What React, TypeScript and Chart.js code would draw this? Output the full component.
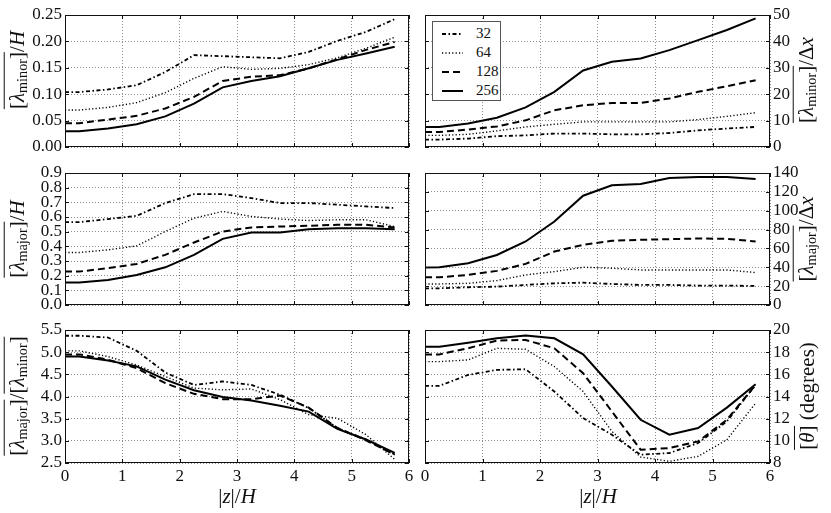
import React, { useEffect, useRef } from 'react';
import { Chart, registerables } from 'chart.js';

Chart.register(...registerables);

// --- data ---
const Z = [0, 0.25, 0.75, 1.25, 1.75, 2.25, 2.75, 3.25, 3.75, 4.25, 4.75, 5.25, 5.75];
const RESOLUTIONS = ['32', '64', '128', '256'];
const X_TICKS = [0, 1, 2, 3, 4, 5, 6];

// [lambda_minor]/H
const minorH32 = [0.104, 0.104, 0.109, 0.117, 0.142, 0.174, 0.172, 0.170, 0.168, 0.180, 0.201, 0.218, 0.242];
const minorH64 = [0.070, 0.070, 0.075, 0.084, 0.103, 0.130, 0.152, 0.147, 0.149, 0.156, 0.169, 0.187, 0.208];
const minorH128 = [0.045, 0.045, 0.052, 0.059, 0.073, 0.095, 0.125, 0.133, 0.136, 0.149, 0.166, 0.184, 0.199];
const minorH256 = [0.030, 0.030, 0.035, 0.043, 0.058, 0.082, 0.113, 0.125, 0.134, 0.149, 0.165, 0.177, 0.190];

// [lambda_minor]/dx
const minorDx32 = [2.8, 2.8, 3.2, 4.1, 4.4, 5.1, 5.1, 4.8, 4.8, 5.3, 6.3, 7.0, 7.6];
const minorDx64 = [4.4, 4.4, 4.8, 6.1, 7.6, 8.6, 9.5, 9.5, 9.5, 9.5, 10.4, 11.6, 13.0];
const minorDx128 = [5.7, 5.7, 6.6, 7.8, 10.1, 13.9, 15.8, 16.7, 16.7, 18.4, 20.9, 23.0, 25.3];
const minorDx256 = [7.6, 7.6, 8.9, 11.1, 15.0, 20.9, 29.0, 32.3, 33.5, 36.7, 40.5, 44.3, 48.7];

// [lambda_major]/H
const majorH32 = [0.565, 0.565, 0.586, 0.608, 0.695, 0.756, 0.756, 0.729, 0.695, 0.695, 0.684, 0.672, 0.661];
const majorH64 = [0.358, 0.358, 0.376, 0.403, 0.501, 0.592, 0.638, 0.604, 0.586, 0.576, 0.581, 0.581, 0.535];
const majorH128 = [0.228, 0.228, 0.251, 0.280, 0.342, 0.426, 0.501, 0.529, 0.535, 0.540, 0.547, 0.547, 0.529];
const majorH256 = [0.153, 0.153, 0.171, 0.205, 0.257, 0.342, 0.451, 0.494, 0.494, 0.517, 0.524, 0.524, 0.517];

// [lambda_major]/dx
const majorDx32 = [17.7, 17.7, 18.8, 19.5, 21.3, 23.0, 23.7, 22.3, 21.3, 21.3, 20.6, 20.6, 20.2];
const majorDx64 = [22.3, 22.3, 23.0, 25.9, 31.9, 35.4, 40.0, 39.0, 37.2, 37.2, 37.2, 37.2, 34.4];
const majorDx128 = [29.4, 29.4, 31.9, 36.2, 43.6, 56.7, 63.8, 68.1, 69.1, 69.8, 70.5, 70.2, 67.4];
const majorDx256 = [39.7, 40.0, 44.3, 53.0, 67.4, 88.6, 115.9, 127.0, 128.3, 134.7, 135.8, 135.8, 133.6];

// [lambda_major]/[lambda_minor]
const ratio32 = [5.37, 5.37, 5.33, 5.03, 4.54, 4.26, 4.34, 4.26, 4.04, 3.74, 3.29, 3.03, 2.69];
const ratio64 = [5.03, 5.03, 4.90, 4.71, 4.45, 4.19, 4.15, 4.17, 3.93, 3.59, 3.51, 3.14, 2.58];
const ratio128 = [4.95, 4.95, 4.83, 4.64, 4.30, 4.06, 3.94, 3.94, 4.02, 3.75, 3.29, 3.01, 2.69];
const ratio256 = [4.90, 4.90, 4.81, 4.68, 4.38, 4.14, 3.99, 3.91, 3.79, 3.66, 3.27, 3.03, 2.73];

// [theta] (degrees)
const theta32 = [14.96, 14.96, 15.95, 16.4, 16.46, 14.45, 12.05, 10.55, 8.75, 8.9, 9.8, 11.75, 15.05];
const theta64 = [17.15, 17.15, 17.3, 18.35, 18.26, 16.7, 14.45, 10.85, 8.54, 8.15, 8.6, 10.1, 13.4];
const theta128 = [17.8, 17.8, 18.35, 19.05, 19.1, 18.35, 16.1, 12.65, 9.2, 9.35, 9.95, 11.9, 15.05];
const theta256 = [18.5, 18.5, 18.86, 19.25, 19.5, 19.25, 17.8, 14.9, 11.9, 10.55, 11.15, 13.0, 15.1];

// --- styles ---
const FONT = 'Liberation Serif';
const GRID = 'rgba(0,0,0,0.45)';
const LINES = [
  { dash: [4, 2.5, 1.5, 2.5], width: 1.8 },
  { dash: [1.2, 2.2], width: 1.4 },
  { dash: [7, 4], width: 2 },
  { dash: [], width: 2 },
];

// frame on all four sides + small inward tick marks
const framePlugin = {
  id: 'frame',
  afterDatasetsDraw(chart: any) {
    const { ctx, chartArea: a, scales } = chart;
    ctx.save();
    ctx.strokeStyle = '#111';
    ctx.lineWidth = 1;
    ctx.setLineDash([]);
    ctx.strokeRect(a.left + 0.5, a.top + 0.5, a.right - a.left - 1, a.bottom - a.top - 1);
    ctx.beginPath();
    scales.x.ticks.forEach((t: any) => {
      const px = Math.round(scales.x.getPixelForValue(t.value)) + 0.5;
      ctx.moveTo(px, a.bottom); ctx.lineTo(px, a.bottom - 4);
      ctx.moveTo(px, a.top); ctx.lineTo(px, a.top + 4);
    });
    scales.y.ticks.forEach((t: any) => {
      const py = Math.round(scales.y.getPixelForValue(t.value)) + 0.5;
      ctx.moveTo(a.left, py); ctx.lineTo(a.left + 4, py);
      ctx.moveTo(a.right, py); ctx.lineTo(a.right - 4, py);
    });
    ctx.stroke();
    ctx.restore();
  },
};

type PanelProps = {
  left: number; top: number; width: number; height: number;
  pad: { top: number; right: number; bottom: number; left: number };
  side: 'left' | 'right';
  yWidth: number; xHeight: number;
  series: number[][];
  yMin: number; yMax: number; yStep: number; yDigits: number;
  showX: boolean;
};

function Panel(p: PanelProps) {
  const ref = useRef<HTMLCanvasElement>(null);

  useEffect(() => {
    const ctx = ref.current?.getContext('2d');
    if (!ctx) return;
    const chart = new Chart(ctx, {
      type: 'line',
      data: {
        datasets: p.series.map((s, i) => ({
          label: RESOLUTIONS[i],
          data: s.map((v, j) => ({ x: Z[j], y: v })),
          borderColor: '#000',
          borderWidth: LINES[i].width,
          borderDash: LINES[i].dash,
          pointRadius: 0,
          tension: 0,
          fill: false,
        })),
      },
      options: {
        animation: false,
        responsive: false,
        events: [],
        layout: { padding: p.pad },
        plugins: { legend: { display: false }, tooltip: { enabled: false } },
        scales: {
          x: {
            type: 'linear', min: 0, max: 6,
            afterBuildTicks: (s: any) => { s.ticks = X_TICKS.map((v) => ({ value: v })); },
            ticks: { display: p.showX, z: 1, autoSkip: false, padding: 3, color: '#111', maxRotation: 0, font: { family: FONT, size: 17 }, callback: (v: any) => String(v) },
            grid: { color: GRID, lineWidth: 1, drawTicks: false },
            border: { display: false, dash: [1, 2] },
            afterFit: (s: any) => { s.height = p.xHeight; s.paddingLeft = 0; s.paddingRight = 0; },
          },
          y: {
            type: 'linear', position: p.side, min: p.yMin, max: p.yMax,
            ticks: { stepSize: p.yStep, z: 1, autoSkip: false, padding: 3, color: '#111', font: { family: FONT, size: 17 }, callback: (v: any) => Number(v).toFixed(p.yDigits) },
            grid: { color: GRID, lineWidth: 1, drawTicks: false },
            border: { display: false, dash: [1, 2] },
            afterFit: (s: any) => { s.width = p.yWidth; s.paddingTop = 0; s.paddingBottom = 0; },
          },
        },
      },
      plugins: [framePlugin],
    } as any);
    return () => chart.destroy();
  }, []);

  return (
    <canvas
      ref={ref}
      width={p.width}
      height={p.height}
      style={{ position: 'absolute', left: p.left, top: p.top, width: p.width, height: p.height }}
    />
  );
}

// overlined group, like \overline{[...]}
function Ov({ children }: { children: React.ReactNode }) {
  return (
    <span style={{ display: 'inline-block', borderTop: '1.2px solid #111', paddingTop: 1, lineHeight: 1.05 }}>{children}</span>
  );
}
const sub: React.CSSProperties = { fontSize: '0.68em', verticalAlign: '-0.25em' };

function YTitle({ x, y, children }: { x: number; y: number; children: React.ReactNode }) {
  return (
    <div style={{
      position: 'absolute', left: x, top: y, transform: 'translate(-50%, -50%) rotate(-90deg)',
      whiteSpace: 'nowrap', fontFamily: FONT, fontSize: 21, color: '#111', lineHeight: 1,
    }}>{children}</div>
  );
}

function Legend() {
  return (
    <div style={{
      position: 'absolute', left: 432, top: 21, width: 69, height: 80, boxSizing: 'border-box',
      border: '1.5px solid #555', background: '#fff', fontFamily: FONT, fontSize: 15, color: '#111',
    }}>
      {RESOLUTIONS.map((r, i) => (
        <div key={r} style={{ position: 'absolute', left: 0, top: 2 + i * 19, height: 19, display: 'flex', alignItems: 'center' }}>
          <svg width={32} height={6} style={{ marginLeft: 9 }}>
            <line x1={0} y1={3} x2={21} y2={3} stroke="#000" strokeWidth={LINES[i].width}
              strokeDasharray={LINES[i].dash.length ? LINES[i].dash.join(' ') : undefined} />
          </svg>
          <span style={{ marginLeft: 2 }}>{r}</span>
        </div>
      ))}
    </div>
  );
}

const leftCol = { left: 0, width: 420, side: 'left' as const, yWidth: 65, padL: 0, padR: 11 };
const rightCol = { left: 410, width: 421, side: 'right' as const, yWidth: 61, padL: 15, padR: 0 };
const rows = [
  { top: 0, height: 160, padTop: 15, padBottom: 13, xHeight: 0, showX: false },
  { top: 160, height: 160, padTop: 13, padBottom: 15, xHeight: 0, showX: false },
  { top: 320, height: 193, padTop: 10, padBottom: 0, xHeight: 50, showX: true },
];

function mk(col: any, r: number) {
  const row = rows[r];
  return {
    left: col.left, width: col.width, top: row.top, height: row.height,
    side: col.side, yWidth: col.yWidth, xHeight: row.xHeight, showX: row.showX,
    pad: { top: row.padTop, bottom: row.padBottom, left: col.padL, right: col.padR },
  };
}

const xTitle: React.CSSProperties = {
  position: 'absolute', top: 496, transform: 'translate(-50%, -50%)', fontFamily: FONT,
  fontSize: 21, color: '#111', whiteSpace: 'nowrap', lineHeight: 1,
};

export default function App() {
  useEffect(() => {
    document.body.style.margin = '0';
  }, []);

  return (
    <div style={{ position: 'relative', width: 831, height: 513, background: '#fff', overflow: 'hidden' }}>
      <Panel {...mk(leftCol, 0)} series={[minorH32, minorH64, minorH128, minorH256]} yMin={0} yMax={0.25} yStep={0.05} yDigits={2} />
      <Panel {...mk(rightCol, 0)} series={[minorDx32, minorDx64, minorDx128, minorDx256]} yMin={0} yMax={50} yStep={10} yDigits={0} />
      <Panel {...mk(leftCol, 1)} series={[majorH32, majorH64, majorH128, majorH256]} yMin={0} yMax={0.9} yStep={0.1} yDigits={1} />
      <Panel {...mk(rightCol, 1)} series={[majorDx32, majorDx64, majorDx128, majorDx256]} yMin={0} yMax={140} yStep={20} yDigits={0} />
      <Panel {...mk(leftCol, 2)} series={[ratio32, ratio64, ratio128, ratio256]} yMin={2.5} yMax={5.5} yStep={0.5} yDigits={1} />
      <Panel {...mk(rightCol, 2)} series={[theta32, theta64, theta128, theta256]} yMin={8} yMax={20} yStep={2} yDigits={0} />

      <Legend />

      <YTitle x={17} y={70}>
        <Ov>[<i>λ</i><span style={sub}>minor</span>]</Ov>/<i>H</i>
      </YTitle>
      <YTitle x={17} y={239}>
        <Ov>[<i>λ</i><span style={sub}>major</span>]</Ov>/<i>H</i>
      </YTitle>
      <YTitle x={17} y={396}>
        <Ov>[<i>λ</i><span style={sub}>major</span>]</Ov>/<Ov>[<i>λ</i><span style={sub}>minor</span>]</Ov>
      </YTitle>
      <YTitle x={806} y={80}>
        <Ov>[<i>λ</i><span style={sub}>minor</span>]</Ov>/Δ<i>x</i>
      </YTitle>
      <YTitle x={806} y={239}>
        <Ov>[<i>λ</i><span style={sub}>major</span>]</Ov>/Δ<i>x</i>
      </YTitle>
      <YTitle x={806} y={396}>
        <Ov>[<i>θ</i>]</Ov> (degrees)
      </YTitle>

      <div style={{ ...xTitle, left: 237 }}>|<i>z</i>|/<i>H</i></div>
      <div style={{ ...xTitle, left: 598 }}>|<i>z</i>|/<i>H</i></div>
    </div>
  );
}
